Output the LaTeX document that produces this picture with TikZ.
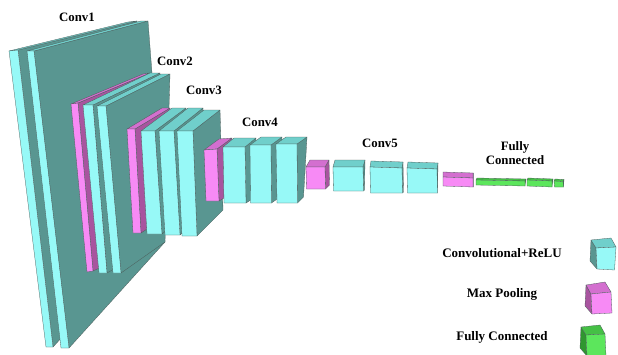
\documentclass[tikz,border=0pt]{standalone}
\usepackage{fontspec}
\setmainfont{Liberation Serif}
\usetikzlibrary{calc}
\definecolor{cvF}{HTML}{97F9F7}
\definecolor{cvT}{HTML}{70CFCB}
\definecolor{cvS}{HTML}{599691}
\definecolor{plF}{HTML}{F78AF5}
\definecolor{plT}{HTML}{D36FCF}
\definecolor{plS}{HTML}{A8549F}
\definecolor{fcF}{HTML}{5CE65C}
\definecolor{fcT}{HTML}{45C045}
\definecolor{fcS}{HTML}{2F962F}
\definecolor{edge}{HTML}{4C5C5A}
\tikzset{
  face/.style={draw=edge, line width=0.3pt, line join=round},
  cvfront/.style={face, fill=cvF}, cvtop/.style={face, fill=cvT}, cvside/.style={face, fill=cvS},
  plfront/.style={face, fill=plF}, pltop/.style={face, fill=plT}, plside/.style={face, fill=plS},
  fcfront/.style={face, fill=fcF}, fctop/.style={face, fill=fcT}, fcside/.style={face, fill=fcS},
  lbl/.style={font=\bfseries\fontsize{12.8}{14.5}\selectfont, inner sep=0pt, align=center},
  leg/.style={font=\bfseries\fontsize{13}{15}\selectfont, inner sep=0pt}
}
% #1 kind (cv/pl/fc), #2 TL, #3 TR, #4 BR, #5 BL (front face), #6 top depth vector, #7 bottom depth vector
\newcommand{\cnnbox}[7]{%
  \coordinate (A) at (#2); \coordinate (B) at (#3);
  \coordinate (C) at (#4); \coordinate (D) at (#5);
  \coordinate (E) at ($(A)+(#6)$); \coordinate (F) at ($(B)+(#6)$);
  \coordinate (G) at ($(C)+(#7)$);
  \filldraw[#1side] (B) -- (F) -- (G) -- (C) -- cycle;
  \filldraw[#1top] (A) -- (B) -- (F) -- (E) -- cycle;
  \filldraw[#1front] (A) -- (B) -- (C) -- (D) -- cycle;
}
% legend cube: #1 kind, #2 back-left-top, #3 back-right-top, #4 front-right-top, #5 front-left-top, #6 front-right-bottom, #7 front-left-bottom, #8 back-left-bottom
\newcommand{\legcube}[8]{%
  \filldraw[#1side] (#2) -- (#5) -- (#7) -- (#8) -- cycle;
  \filldraw[#1top] (#2) -- (#3) -- (#4) -- (#5) -- cycle;
  \filldraw[#1front] (#5) -- (#4) -- (#6) -- (#7) -- cycle;
}
\begin{document}
\begin{tikzpicture}[x=1pt, y=-1pt]
\useasboundingbox (0,0) rectangle (618,354);
% Conv1
\cnnbox{cv}{9,51}{18,50}{53,347}{46,347}{119,-29}{96,-105}
\cnnbox{cv}{27,51}{34,51}{69,348}{61,348}{114,-30}{96,-106}
% Conv2
\cnnbox{pl}{71,104}{78,103}{93,271}{87,272}{72,-30}{60,-28}
\cnnbox{cv}{83,105}{93,105}{107,273}{99,273}{67,-32}{52,-30}
\cnnbox{cv}{97,106}{106,106}{121,273}{113,273}{64,-32}{44,-31}
% Conv3
\cnnbox{pl}{127,129}{135,129}{141,233}{133,233}{35,-21}{30,-20}
\cnnbox{cv}{141,131}{155,131}{162,234}{147,234}{31,-23}{28,-24}
\cnnbox{cv}{159,131}{174,131}{180,235}{165,235}{29,-23}{27,-25}
\cnnbox{cv}{177,131}{193,131}{197,236}{182,236}{27,-21}{26,-26}
% Conv4
\cnnbox{pl}{204,150}{217,149}{219,201}{206,201}{15,-11}{10,-6}
\cnnbox{cv}{223,147}{245,147}{246,203}{224,203}{11,-9}{8,-5}
\cnnbox{cv}{250,145}{271,145}{271.5,203}{250.5,203}{11,-8}{7,-5}
\cnnbox{cv}{276,144}{297,144}{297.5,203}{277,203}{10,-7}{6,-6}
% Conv5
\cnnbox{pl}{306,167}{325,167}{325.5,189}{306.5,189}{4,-7}{4,-4}
\cnnbox{cv}{333,167}{363,167}{363.5,191}{333.5,191}{2,-7}{1,-1}
\cnnbox{cv}{370,167}{402,168}{402.5,193}{370.5,193}{1,-6}{1,-1}
\cnnbox{cv}{407,168}{437,169}{437.5,193}{407.5,193}{1,-6}{0,-1}
% Pool 5 and FC
\cnnbox{pl}{443,177}{473,178}{473,187}{443,186}{0,-5}{0,-1}
\cnnbox{fc}{476,180}{525,181}{525,186}{476,185}{1,-2}{0,-1}
\cnnbox{fc}{527,180}{552,181}{552,187}{527,186}{1,-2}{0,-1}
\cnnbox{fc}{554,181}{563,181.5}{563.5,187}{554.5,187}{1,-2}{0,-1}
% labels
\node[lbl] (l1) at (77,17) {Conv1};
\node[lbl] (l2) at (175,61) {Conv2};
\node[lbl] (l3) at (204,90) {Conv3};
\node[lbl] (l4) at (260,122) {Conv4};
\node[lbl] (l5) at (380,143) {Conv5};
\node[lbl] (l6) at (515,153) {Fully\\Connected};
% legend
\node[leg] (g1) at (502,253) {Convolutional+ReLU};
\node[leg] (g2) at (502,294) {Max Pooling};
\node[leg] (g3) at (502,337) {Fully Connected};
\legcube{cv}{591,240}{611,238}{616,247}{596,248}{614.5,270}{597,269}{590,261}
\legcube{pl}{586,285}{605,282}{611,292}{591,294}{612,313}{592,314}{585,306}
\legcube{fc}{581,327}{600,325}{605,334}{586,335}{606,356}{587,356}{580,348}
\end{tikzpicture}
\end{document}
